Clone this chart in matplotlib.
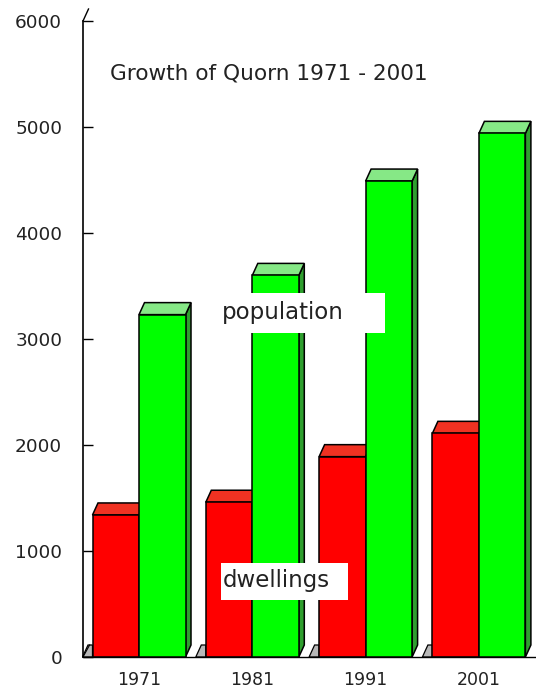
import matplotlib
matplotlib.use("Agg")
import matplotlib.pyplot as plt
from matplotlib.patches import Polygon, Rectangle
import numpy as np

# Growth of Quorn, 1971 - 2001
years = ["1971", "1981", "1991", "2001"]
dwellings = [1340, 1460, 1890, 2110]
population = [3230, 3600, 4490, 4940]
y_ticks = [0, 1000, 2000, 3000, 4000, 5000, 6000]

W, H = 536, 688
fig = plt.figure(figsize=(W / 100, H / 100), dpi=100)
fig.patch.set_facecolor("white")

# axes frame in pixels (left, bottom, right, top measured from the top edge)
ax_l, ax_b, ax_r, ax_t = 83, 657, 536, 21
ax = fig.add_axes([ax_l / W, (H - ax_b) / H, (ax_r - ax_l) / W, (ax_b - ax_t) / H])
ax.set_facecolor("white")

group_px = 113.3          # pixels between group centres
xmin = (ax_l - 139) / group_px
xmax = (ax_r - 139) / group_px
ax.set_xlim(xmin, xmax)
ax.set_ylim(0, 6000)

w = 46.5 / group_px       # bar width
dx = 5.5 / group_px       # depth shift to the right
dy = 12 / (636 / 6000)    # depth shift upwards

RED, RED_TOP = "#ff0000", "#f03222"
GREEN, GREEN_TOP, GREEN_SIDE = "#00ff00", "#86e886", "#2f9f2f"
EDGE = "black"
LW = 1.1

x = np.arange(len(years))
xr = x - w / 2   # dwellings bar centres
xg = x + w / 2   # population bar centres


def depth_faces(xc, v, top_col, side_col, z):
    l, r = xc - w / 2, xc + w / 2
    top = Polygon([(l, v), (l + dx, v + dy), (r + dx, v + dy), (r, v)],
                  closed=True, facecolor=top_col, edgecolor=EDGE, lw=LW, zorder=z)
    side = Polygon([(r, 0), (r, v), (r + dx, v + dy), (r + dx, dy)],
                   closed=True, facecolor=side_col, edgecolor=EDGE, lw=LW, zorder=z)
    ax.add_patch(side)
    ax.add_patch(top)


# grey floor pieces in front of each group
floor_off = 10 / group_px
for xc in xr:
    l = xc - w / 2
    ax.add_patch(Polygon([(l - floor_off, 0), (l - floor_off + dx, dy), (l, dy), (l, 0)],
                         closed=True, facecolor="#b8b8b8", edgecolor=EDGE, lw=0.9,
                         zorder=0.5, clip_on=False))

for xc, v in zip(xr, dwellings):
    depth_faces(xc, v, RED_TOP, RED, 1)
ax.bar(xr, dwellings, w, color=RED, edgecolor=EDGE, linewidth=LW, zorder=2)

for xc, v in zip(xg, population):
    depth_faces(xc, v, GREEN_TOP, GREEN_SIDE, 3)
ax.bar(xg, population, w, color=GREEN, edgecolor=EDGE, linewidth=LW, zorder=4)

# axis lines with the small depth strokes at the corners
for s in ["top", "right"]:
    ax.spines[s].set_visible(False)
ax.spines["left"].set_linewidth(1.2)
ax.spines["bottom"].set_linewidth(1.0)
ax.plot([xmin, xmin + dx], [6000, 6000 + dy], color=EDGE, lw=1.0, clip_on=False, zorder=5)
ax.plot([xmin, xmin + dx * 1.2], [0, dy], color=EDGE, lw=0.8, clip_on=False, zorder=5)

ax.set_yticks(y_ticks)
ax.set_yticklabels([str(t) for t in y_ticks])
ax.tick_params(axis="y", direction="in", length=7.5, width=1.0, pad=15,
               labelsize=13.3, colors="black")
ax.set_xticks(x)
ax.set_xticklabels(years)
ax.tick_params(axis="x", length=0, pad=10, labelsize=12.5)
for lab in ax.get_xticklabels() + ax.get_yticklabels():
    lab.set_color("#222222")

# title
fig.text(110 / W, 1 - 80 / H, "Growth of Quorn 1971 - 2001", fontsize=15.6,
         color="#222222", ha="left", va="baseline")


def label_box(x0, y0, x1, y1, tx, ty, text):
    fig.patches.append(Rectangle((x0 / W, 1 - y1 / H), (x1 - x0) / W, (y1 - y0) / H,
                                 transform=fig.transFigure, facecolor="white",
                                 edgecolor="none", zorder=10))
    fig.text(tx / W, 1 - ty / H, text, fontsize=16.5, color="#222222",
             ha="left", va="baseline", zorder=11)


label_box(215, 293, 385, 333, 222, 319, "population")
label_box(221, 563, 348, 600, 223, 587, "dwellings")

fig.savefig("out.png", dpi=100, facecolor="white")
